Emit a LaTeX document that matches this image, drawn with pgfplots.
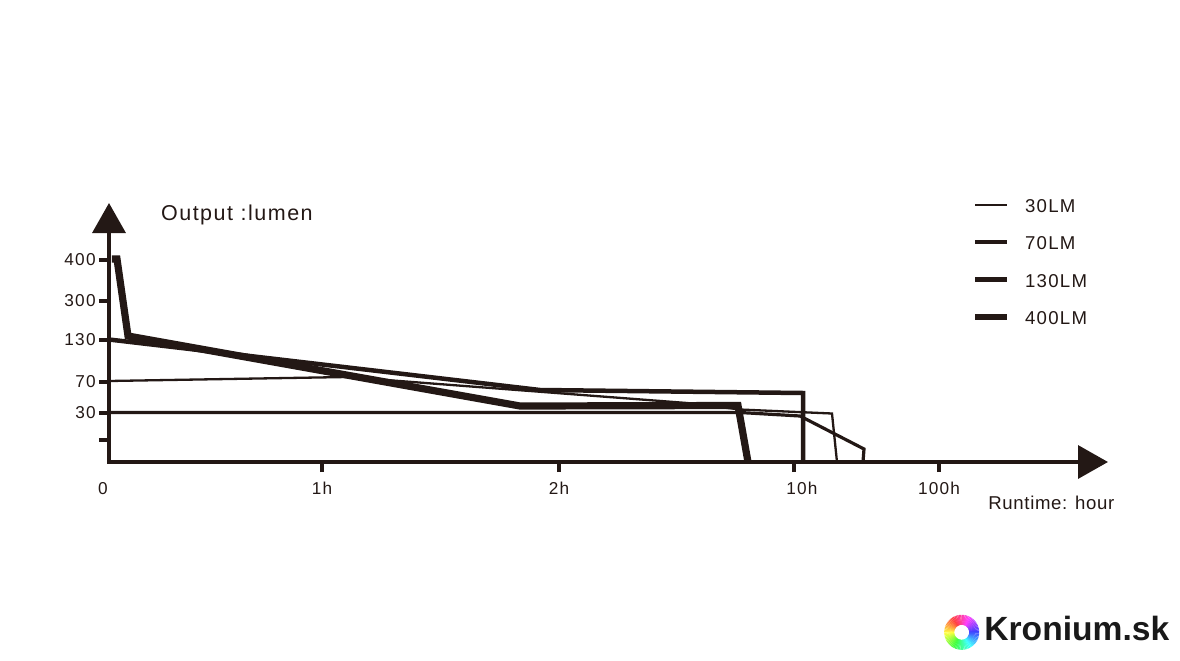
\documentclass[border=0pt]{standalone}
\usepackage{fontspec}
\setmainfont{Liberation Sans}
\newfontfamily\lbl[LetterSpace=7]{Liberation Sans}
\newfontfamily\lblb[LetterSpace=3.5]{Liberation Sans}
\usepackage{pgfplots}
\pgfplotsset{compat=1.18}
\usetikzlibrary{arrows.meta}
\definecolor{ink}{RGB}{35,24,21}
\begin{document}
\begin{tikzpicture}
\begin{axis}[
  scale only axis, width=499.5pt, height=129.5pt,
  xmin=0, xmax=999, ymin=0, ymax=259,
  axis x line=bottom, axis y line=left,
  axis line style={ink, line width=1.75pt, line cap=rect, -{Triangle[length=15pt,width=16.5pt]}},
  tick align=outside, major tick length=5pt,
  tick style={ink, line width=1.65pt, line cap=butt},
  xtick={213,450,685,830}, xticklabels={1h,2h,\hspace*{8pt}10h,100h},
  ytick={22,49,80,122,161,202}, yticklabels={,30,70,130,300,400},
  extra x ticks={0}, extra x tick labels={0\hspace*{6pt}},
  extra x tick style={major tick length=0pt, xticklabel style={yshift=-5pt}},
  xticklabel style={anchor=north, inner sep=0pt, yshift=-5pt, text=ink, font=\lbl\fontsize{8.6pt}{10pt}\selectfont},
  yticklabel style={anchor=east, inner sep=0pt, xshift=-1.5pt, text=ink, font=\lbl\fontsize{8.6pt}{10pt}\selectfont},
  clip=false,
  legend style={at={(0.8639,1.0294)}, anchor=north west, draw=none, fill=none, inner sep=0pt, outer sep=0pt,
    row sep=6.75pt, cells={anchor=west}, font=\lbl\fontsize{9.3pt}{11pt}\selectfont, text=ink,
    /tikz/every odd column/.append style={column sep=5.5pt}},
  legend image code/.code={\draw[#1] (0pt,1.35pt) -- (16pt,1.35pt);},
]
% 30LM (starts at 30 level)
\addplot[ink, line width=1.6pt, forget plot] coordinates {(0,49.5) (631,49.5) (691,46) (755,13) (754,0)};
% 70LM (starts at 70 level)
\addplot[ink, line width=1.15pt, forget plot] coordinates {(0,81) (238,85) (578,59) (631,52.5) (723,48.5) (728,0)};
% 130LM
\addplot[ink, line width=2.25pt, forget plot] coordinates {(0,122.5) (431,72) (694,69) (694,0)};
% 400LM
\addplot[ink, line width=3.6pt, forget plot] coordinates {(3,203) (8,203) (19,126) (411,56) (629,56.5) (639,0)};

\addlegendimage{ink, line width=1pt}
\addlegendentry{30LM}
\addlegendimage{ink, line width=2pt}
\addlegendentry{70LM}
\addlegendimage{ink, line width=2.4pt}
\addlegendentry{130LM}
\addlegendimage{ink, line width=3pt}
\addlegendentry{400LM}

\node[anchor=base west, inner sep=0pt, text=ink, font=\lbl\fontsize{10.75pt}{12pt}\selectfont] at (axis cs:51.7,242) {Output :lumen};
\node[anchor=base west, inner sep=0pt, text=ink, font=\lblb\fontsize{9.3pt}{11pt}\selectfont] at (axis cs:879,-47) {Runtime: hour};
\node[anchor=base west, inner sep=0pt, text={black!90}, font=\bfseries\fontsize{16.8pt}{18pt}\selectfont] at (axis cs:875,-178) {Kronium.sk};
\coordinate (lc) at (axis cs:852.7,-170.3);
\path (axis cs:-109,-198) rectangle (axis cs:1071,462);
\end{axis}
\foreach \a in {0,5,...,355} {
  \pgfmathsetmacro\h{mod(240+\a,360)}
  \definecolor{rc}{Hsb}{\h,0.75,1}
  \draw[rc, line width=5pt] ([shift={(\a:6.25pt)}]lc) arc[start angle=\a, end angle=\a+6, radius=6.25pt];
}
\end{tikzpicture}
\end{document}
